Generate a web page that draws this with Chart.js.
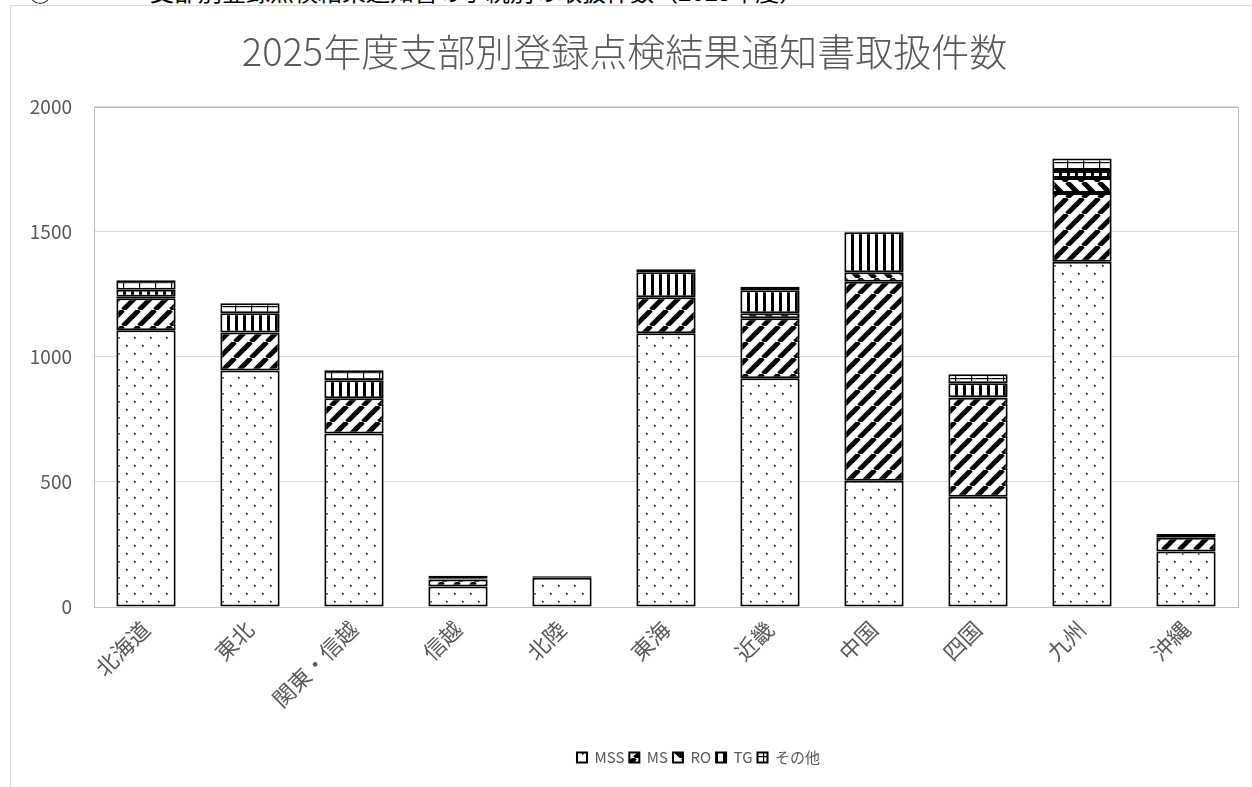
<!DOCTYPE html>
<html lang="ja">
<head>
<meta charset="utf-8">
<title>2025年度支部別登録点検結果通知書取扱件数</title>
<script src="https://cdn.jsdelivr.net/npm/chart.js@4.4.1/dist/chart.umd.min.js"></script>
<style>
body { margin: 0; background: #fff; width: 1252px; height: 787px; overflow: hidden; position: relative; font-family: "Noto Sans CJK JP", sans-serif; }
#doc { position: absolute; left: 0; top: 0; width: 1252px; height: 5px; overflow: hidden; }
#doc span { position: absolute; top: -27px; font-size: 24px; color: #000; white-space: nowrap; }
#box { position: absolute; left: 10px; top: 5px; width: 1241px; height: 781px; border-left: 1px solid #d9d9d9; border-top: 1px solid #d9d9d9; }
</style>
</head>
<body>
<div id="doc"><span style="left:28px">③</span><span style="left:150px">支部別登録点検結果通知書の手続別の取扱件数（2025年度）</span></div>
<div id="box"><canvas id="chart"></canvas></div>
<script>
// 支部（カテゴリ）
var branches = ['北海道', '東北', '関東・信越', '信越', '北陸', '東海', '近畿', '中国', '四国', '九州', '沖縄'];
// 区分別件数
var mssCounts   = [1106, 945, 693, 82, 117, 1094, 914, 505, 441, 1380, 222];
var msCounts    = [128, 152, 141, 28, 3, 144, 240, 795, 395, 275, 55];
var roCounts    = [6, 0, 0, 0, 0, 0, 20, 38, 2, 60, 0];
var tgCounts    = [28, 77, 72, 5, 1, 100, 92, 160, 56, 28, 3];
var otherCounts = [38, 40, 40, 10, 3, 12, 14, 2, 36, 50, 12];
var yTicks = [0, 500, 1000, 1500, 2000];

var gray = '#595959';

function makePattern(w, h, draw) {
    var c = document.createElement('canvas');
    c.width = w;
    c.height = h;
    var g = c.getContext('2d');
    g.fillStyle = '#fff';
    g.fillRect(0, 0, w, h);
    g.fillStyle = '#000';
    g.strokeStyle = '#000';
    draw(g, w, h);
    return g.createPattern(c, 'repeat');
}

var dots = makePattern(16, 16, function (g) {
    g.fillRect(3, 3, 1.6, 1.6);
    g.fillRect(11, 11, 1.6, 1.6);
});
var upDiag = makePattern(16, 16, function (g) {
    g.lineWidth = 5;
    for (var x0 = -16; x0 <= 16; x0 += 16) {
        g.beginPath();
        g.moveTo(x0, 16);
        g.lineTo(x0 + 16, 0);
        g.stroke();
    }
});
var downDiag = makePattern(16, 16, function (g) {
    g.lineWidth = 5;
    for (var x0 = -16; x0 <= 16; x0 += 16) {
        g.beginPath();
        g.moveTo(x0, 0);
        g.lineTo(x0 + 16, 16);
        g.stroke();
    }
});
var vertical = makePattern(8, 4, function (g) {
    g.fillRect(0, 0, 3, 4);
});
var horizontal = makePattern(16, 6, function (g) {
    g.fillRect(0, 0, 16, 1.2);
    g.fillRect(0, 0, 1.2, 6);
});

// plot area frame like Excel
var plotFrame = {
    id: 'plotFrame',
    beforeDatasetsDraw: function (chart) {
        var a = chart.chartArea, ctx = chart.ctx;
        ctx.save();
        ctx.strokeStyle = '#bfbfbf';
        ctx.lineWidth = 1;
        ctx.strokeRect(Math.round(a.left) + 0.5, Math.round(a.top) + 0.5, Math.round(a.right - a.left), Math.round(a.bottom - a.top));
        ctx.restore();
    }
};

// the legend sits a little right of centre in the original
var legendShift = {
    id: 'legendShift',
    afterLayout: function (chart) {
        chart.legend.left += 74;
        chart.legend.right += 74;
    }
};

function series(label, data, pattern) {
    return {
        label: label,
        data: data,
        backgroundColor: pattern,
        borderColor: '#000',
        borderWidth: 2,
        borderSkipped: false,
        categoryPercentage: 1,
        barPercentage: 0.57
    };
}

Chart.defaults.font.family = '"Noto Sans CJK JP", "Noto Sans", sans-serif';
Chart.defaults.color = gray;

var chart = new Chart(document.getElementById('chart').getContext('2d'), {
    type: 'bar',
    data: {
        labels: branches,
        datasets: [
            series('MSS', mssCounts, dots),
            series('MS', msCounts, upDiag),
            series('RO', roCounts, downDiag),
            series('TG', tgCounts, vertical),
            series('その他', otherCounts, horizontal)
        ]
    },
    options: {
        responsive: true,
        maintainAspectRatio: false,
        animation: false,
        layout: { padding: { left: 0, right: 14, top: 0, bottom: 12 } },
        plugins: {
            title: {
                display: true,
                text: '2025年度支部別登録点検結果通知書取扱件数',
                color: gray,
                font: { size: 38, weight: 300 },
                padding: { top: 23, bottom: 32 }
            },
            legend: {
                position: 'bottom',
                labels: {
                    boxWidth: 10,
                    boxHeight: 10,
                    padding: 5,
                    color: gray,
                    font: { size: 15 }
                }
            },
            tooltip: { enabled: false }
        },
        scales: {
            x: {
                stacked: true,
                grid: { display: false },
                border: { display: false },
                ticks: {
                    minRotation: 45,
                    maxRotation: 45,
                    padding: 1,
                    color: gray,
                    font: { size: 22 }
                },
                afterFit: function (scale) { scale.height = 138; }
            },
            y: {
                stacked: true,
                min: 0,
                max: 2000,
                afterBuildTicks: function (scale) {
                    scale.ticks = yTicks.map(function (v) { return { value: v }; });
                },
                grid: { color: '#d9d9d9', drawTicks: false },
                border: { display: false },
                ticks: {
                    padding: 22,
                    color: gray,
                    font: { size: 19 },
                    callback: function (v) { return String(v); }
                },
                afterFit: function (scale) { scale.width = 83; }
            }
        }
    },
    plugins: [plotFrame, legendShift]
});
</script>
</body>
</html>
